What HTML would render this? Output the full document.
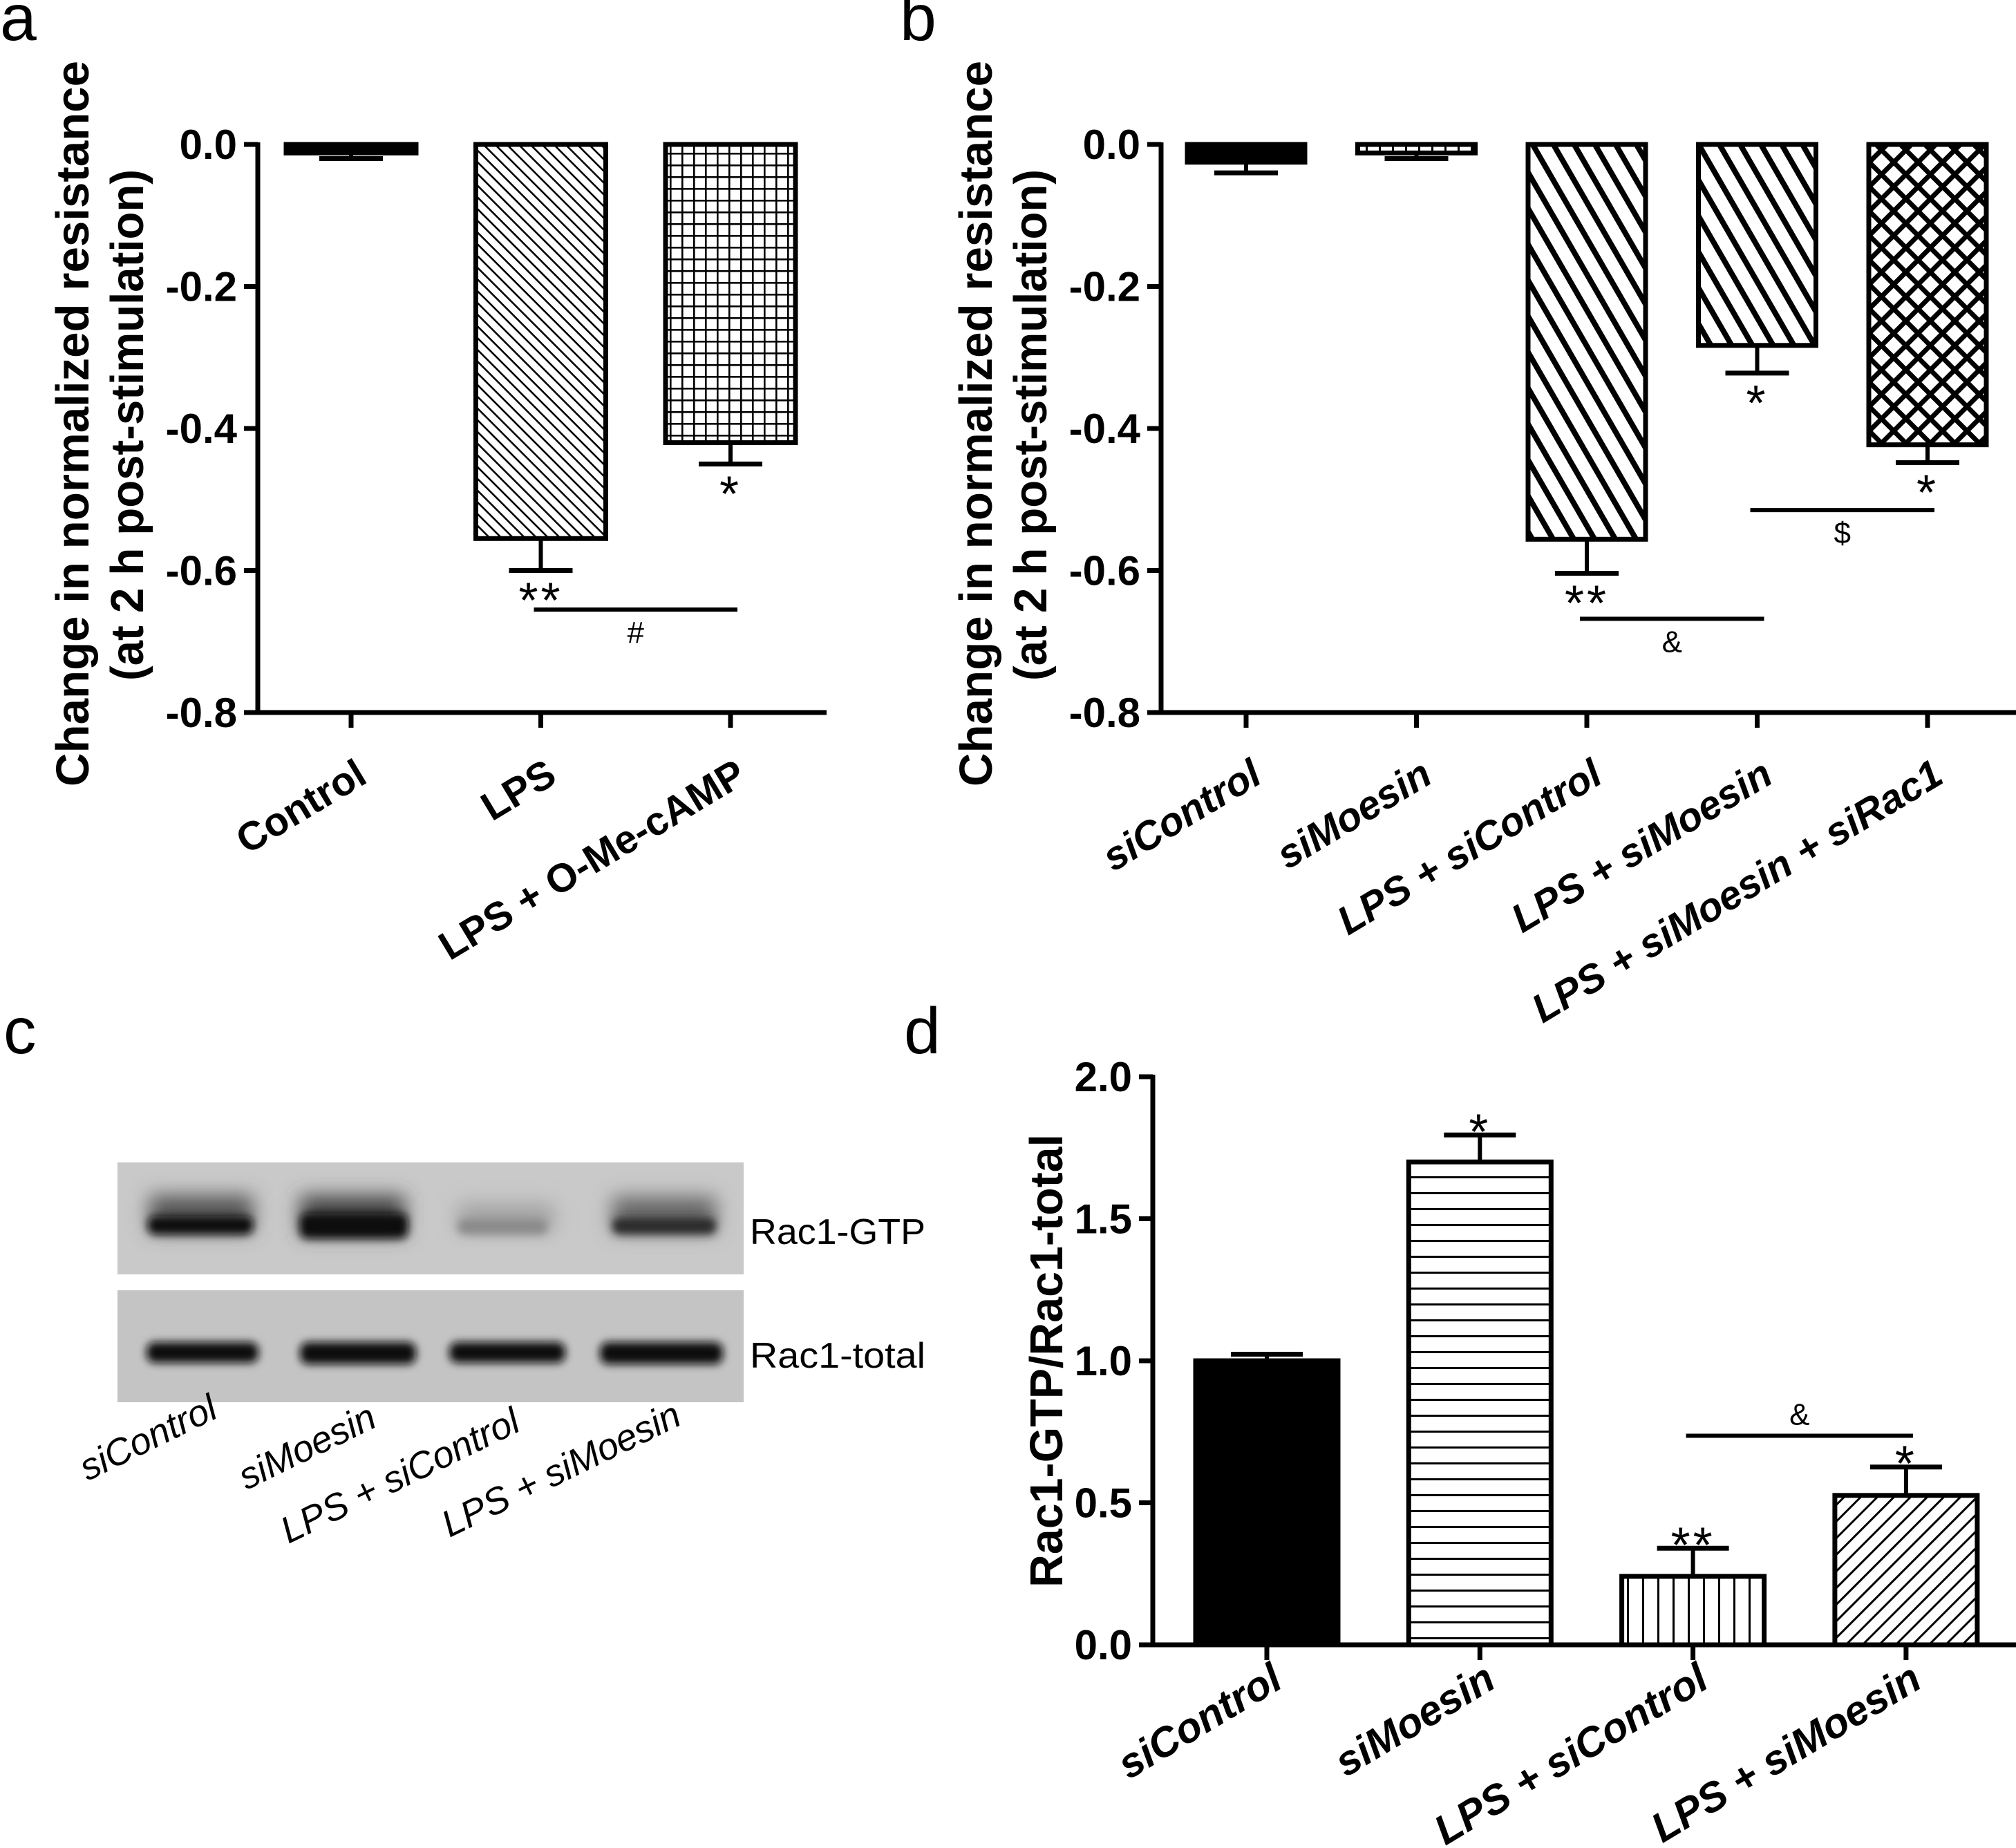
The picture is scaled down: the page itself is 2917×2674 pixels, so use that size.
<!DOCTYPE html>
<html><head><meta charset="utf-8"><style>
html,body{margin:0;padding:0;background:#fff;}
svg{display:block;}
text{font-family:"Liberation Sans",Arial,sans-serif;}
</style></head><body>
<svg id="fig" xmlns="http://www.w3.org/2000/svg" width="2917" height="2674" viewBox="0 0 2917 2674">
<defs>
<pattern id="pDiagThin" patternUnits="userSpaceOnUse" width="12" height="12" patternTransform="rotate(45)"><rect width="12" height="12" fill="#fff"/><rect y="0" width="12" height="2.6" fill="#000"/></pattern>
<pattern id="pGrid" patternUnits="userSpaceOnUse" width="17" height="17"><rect width="17" height="17" fill="#fff"/><rect width="17" height="2.6" fill="#000"/><rect width="2.6" height="17" fill="#000"/></pattern>
<pattern id="pGridSmall" patternUnits="userSpaceOnUse" width="19" height="19"><rect width="19" height="19" fill="#fff"/><rect width="3" height="19" fill="#000"/></pattern>
<pattern id="pDiagThick" patternUnits="userSpaceOnUse" width="26" height="26" patternTransform="rotate(60)"><rect width="26" height="26" fill="#fff"/><rect y="0" width="26" height="8" fill="#000"/></pattern>
<pattern id="pCross" patternUnits="userSpaceOnUse" width="25" height="25" patternTransform="rotate(45)"><rect width="25" height="25" fill="#fff"/><rect width="25" height="7" fill="#000"/><rect width="7" height="25" fill="#000"/></pattern>
<pattern id="pHoriz" patternUnits="userSpaceOnUse" width="23" height="23"><rect width="23" height="23" fill="#fff"/><rect width="23" height="3" fill="#000"/></pattern>
<pattern id="pVert" patternUnits="userSpaceOnUse" width="22" height="22"><rect width="22" height="22" fill="#fff"/><rect width="3" height="22" fill="#000"/></pattern>
<pattern id="pDiagFwd" patternUnits="userSpaceOnUse" width="17" height="17" patternTransform="rotate(-45)"><rect width="17" height="17" fill="#fff"/><rect width="17" height="3" fill="#000"/></pattern>
<filter id="blur6" x="-30%" y="-100%" width="160%" height="300%"><feGaussianBlur stdDeviation="6"/></filter>
<filter id="blur14" x="-30%" y="-100%" width="160%" height="300%"><feGaussianBlur stdDeviation="14"/></filter>
</defs>

<text x="0" y="58" font-size="95">a</text>
<text x="1302" y="58" font-size="95">b</text>
<text x="5" y="1524" font-size="95">c</text>
<text x="1308" y="1524" font-size="95">d</text>

<g id="panelA"></g>
<g id="panelB"></g>
<g id="panelD"></g>

<g>
  <rect x="170" y="1682" width="906" height="162" fill="#c9c9c9"/>
  <rect x="170" y="1867" width="906" height="162" fill="#c4c4c4"/>
  <g filter="url(#blur14)">
    <rect x="216" y="1730" width="150" height="52" fill="#555"/>
    <rect x="434" y="1730" width="152" height="56" fill="#444"/>
    <rect x="662" y="1742" width="140" height="40" fill="#a2a2a2"/>
    <rect x="886" y="1732" width="150" height="50" fill="#666"/>
  </g>
  <g filter="url(#blur6)">
    <rect x="214" y="1760" width="152" height="26" rx="10" fill="#111"/>
    <rect x="434" y="1756" width="156" height="36" rx="10" fill="#080808"/>
    <rect x="662" y="1764" width="130" height="22" rx="10" fill="#8a8a8a"/>
    <rect x="886" y="1762" width="150" height="24" rx="10" fill="#2a2a2a"/>
    <rect x="212" y="1942" width="162" height="30" rx="12" fill="#111"/>
    <rect x="434" y="1942" width="168" height="32" rx="12" fill="#111"/>
    <rect x="650" y="1942" width="168" height="30" rx="12" fill="#111"/>
    <rect x="868" y="1942" width="178" height="32" rx="12" fill="#111"/>
  </g>
  <text x="1085" y="1800" font-size="52" textLength="254" lengthAdjust="spacingAndGlyphs">Rac1-GTP</text>
  <text x="1085" y="1979" font-size="52" textLength="254" lengthAdjust="spacingAndGlyphs">Rac1-total</text>
  <text font-size="54" font-style="italic" text-anchor="end" transform="translate(318,2050) rotate(-26)">siControl</text>
  <text font-size="54" font-style="italic" text-anchor="end" transform="translate(548,2063) rotate(-26)">siMoesin</text>
  <text font-size="54" font-style="italic" text-anchor="end" transform="translate(756,2069) rotate(-26)">LPS + siControl</text>
  <text font-size="54" font-style="italic" text-anchor="end" transform="translate(989,2060) rotate(-26)">LPS + siMoesin</text>
</g>

<script>
// ---- Panel a data ----
const aCategories = ["Control", "LPS", "LPS + O-Me-cAMP"];
const aValues = [-0.012, -0.555, -0.42];
const aErrors = [0.008, 0.045, 0.03];
const aStars = ["", "**", "*"];
const aTickValues = [0, -0.2, -0.4, -0.6, -0.8];
const aTickLabels = ["0.0", "-0.2", "-0.4", "-0.6", "-0.8"];
// ---- Panel b data ----
const bCategories = ["siControl", "siMoesin", "LPS + siControl", "LPS + siMoesin", "LPS + siMoesin + siRac1"];
const bValues = [-0.025, -0.012, -0.556, -0.283, -0.423];
const bErrors = [0.015, 0.008, 0.048, 0.039, 0.025];
const bStars = ["", "", "**", "*", "*"];
const bTickValues = [0, -0.2, -0.4, -0.6, -0.8];
const bTickLabels = ["0.0", "-0.2", "-0.4", "-0.6", "-0.8"];
// ---- Panel d data ----
const dCategories = ["siControl", "siMoesin", "LPS + siControl", "LPS + siMoesin"];
const dValues = [1.0, 1.70, 0.241, 0.526];
const dErrors = [0.023, 0.095, 0.099, 0.10];
const dStars = ["", "*", "**", "*"];
const dTickValues = [0, 0.5, 1.0, 1.5, 2.0];
const dTickLabels = ["0.0", "0.5", "1.0", "1.5", "2.0"];
// significance brackets: [fromIndex, toIndex, value, symbol]
const aBrackets = [[1, 2, -0.655, "#"]];
const bBrackets = [[2, 3, -0.668, "&"], [3, 4, -0.515, "$"]];
const dBrackets = [[2, 3, 0.736, "&"]];

const NS = "http://www.w3.org/2000/svg";
function mk(parent, tag, attrs, txt) {
  const e = document.createElementNS(NS, tag);
  for (const k in attrs) e.setAttribute(k, attrs[k]);
  if (txt !== undefined) e.textContent = txt;
  parent.appendChild(e);
  return e;
}

function drawPanel(g, cfg) {
  const y = v => cfg.y0 - v * cfg.pxPerUnit;
  const x = i => cfg.firstX + i * cfg.stepX;
  const yMin = Math.min(...cfg.ticks), yMax = Math.max(...cfg.ticks);
  const ya = mk(g, "line", {x1: cfg.axisX, x2: cfg.axisX, y1: y(yMax) - 3, y2: y(yMin) + 3, stroke: "#000", "stroke-width": 7});
  
  
  cfg.ticks.forEach((t, i) => {
    const tk = mk(g, "line", {x1: cfg.axisX - 20, x2: cfg.axisX, y1: y(t), y2: y(t), stroke: "#000", "stroke-width": 7});
    
    
    const tl = mk(g, "text", {x: cfg.axisX - 30, y: y(t) + 21, "font-size": 60, "font-weight": "bold", "text-anchor": "end"}, cfg.tickLabels[i]);
    
    
  });
  cfg.values.forEach((v, i) => {
    const cx = x(i), hw = cfg.barW / 2;
    const top = Math.min(y(0), y(v)), h = Math.abs(y(v) - y(0));
    const r = mk(g, "rect", {x: cx - hw, y: top, width: cfg.barW, height: Math.max(h, 1), fill: cfg.fills[i], stroke: "#000", "stroke-width": 7});
    
    
    const dir = v < 0 ? -1 : 1;
    const ve = v + dir * cfg.errors[i];
    const el = mk(g, "line", {x1: cx, x2: cx, y1: y(v), y2: y(ve), stroke: "#000", "stroke-width": 6});
    
    
    const cap = mk(g, "line", {x1: cx - cfg.capW / 2, x2: cx + cfg.capW / 2, y1: y(ve), y2: y(ve), stroke: "#000", "stroke-width": 7});
    
    
    if (cfg.stars[i]) {
      const cy = y(ve) + (dir < 0 ? 28 : -20);
      const st = mk(g, "text", {x: cx, y: cy + 40, "font-size": 72, "text-anchor": "middle", "letter-spacing": "4"}, cfg.stars[i]);
      
      
    }
  });
  const xa = mk(g, "line", {x1: cfg.axisX - 20, x2: cfg.axisEnd, y1: cfg.xAxisY, y2: cfg.xAxisY, stroke: "#000", "stroke-width": 7});
  
  
  cfg.cats.forEach((c, i) => {
    const tk = mk(g, "line", {x1: x(i), x2: x(i), y1: cfg.xAxisY, y2: cfg.xAxisY + 22, stroke: "#000", "stroke-width": 7});
    
    
    const attrs = {"font-size": cfg.labelSize, "font-weight": "bold", "text-anchor": "end",
      transform: "translate(" + (x(i) + 26) + "," + (cfg.xAxisY + cfg.labelDy) + ") rotate(-31)"};
    if (cfg.italic) attrs["font-style"] = "italic";
    const tl = mk(g, "text", attrs, c);
    
    
  });
  cfg.brackets.forEach(b => {
    const by = y(b[2]);
    const bl = mk(g, "line", {x1: x(b[0]) - 10, x2: x(b[1]) + 10, y1: by, y2: by, stroke: "#000", "stroke-width": 6});
    
    
    const below = b[2] < 0;
    const ty = below ? by + 48 : by - 16;
    const bt = mk(g, "text", {x: (x(b[0]) + x(b[1])) / 2, y: ty, "font-size": 44, "text-anchor": "middle", "font-family": "Liberation Serif, serif"}, b[3]);
    
    
  });
  cfg.titles.forEach((t, k) => {
    const tt = mk(g, "text", {"font-size": cfg.titleSize, "font-weight": "bold", "text-anchor": "middle",
      textLength: t[3], lengthAdjust: "spacingAndGlyphs",
      transform: "translate(" + t[1] + "," + t[2] + ") rotate(-90)"}, t[0]);
    
    
  });
}

drawPanel(document.getElementById("panelA"), {
  y0: 209, pxPerUnit: 1027.5, axisX: 373, axisEnd: 1196, xAxisY: 1031,
  firstX: 508, stepX: 274.5, barW: 188, capW: 92,
  values: aValues, errors: aErrors, stars: aStars, cats: aCategories,
  ticks: aTickValues, tickLabels: aTickLabels, brackets: aBrackets,
  fills: ["#000", "url(#pDiagThin)", "url(#pGrid)"], labelSize: 58, italic: false, labelDy: 100,
  titleSize: 67, titles: [["Change in normalized resistance", 128, 613, 1050], ["(at 2 h post-stimulation)", 207, 615, 740]]
});
drawPanel(document.getElementById("panelB"), {
  y0: 209, pxPerUnit: 1027.5, axisX: 1680, axisEnd: 2917, xAxisY: 1031,
  firstX: 1803, stepX: 246.5, barW: 170, capW: 92,
  values: bValues, errors: bErrors, stars: bStars, cats: bCategories,
  ticks: bTickValues, tickLabels: bTickLabels, brackets: bBrackets,
  fills: ["#000", "url(#pGridSmall)", "url(#pDiagThick)", "url(#pDiagThick)", "url(#pCross)"], labelSize: 58, italic: true, labelDy: 100,
  titleSize: 67, titles: [["Change in normalized resistance", 1435, 613, 1050], ["(at 2 h post-stimulation)", 1514, 615, 740]]
});
drawPanel(document.getElementById("panelD"), {
  y0: 2380, pxPerUnit: 411, axisX: 1668, axisEnd: 2917, xAxisY: 2380,
  firstX: 1833, stepX: 308.3, barW: 206, capW: 104,
  values: dValues, errors: dErrors, stars: dStars, cats: dCategories,
  ticks: dTickValues, tickLabels: dTickLabels, brackets: dBrackets,
  fills: ["#000", "url(#pHoriz)", "url(#pVert)", "url(#pDiagFwd)"], labelSize: 60, italic: true, labelDy: 60,
  titleSize: 67, titles: [["Rac1-GTP/Rac1-total", 1537, 1969, 656]]
});
</script>
</svg>
</body></html>
